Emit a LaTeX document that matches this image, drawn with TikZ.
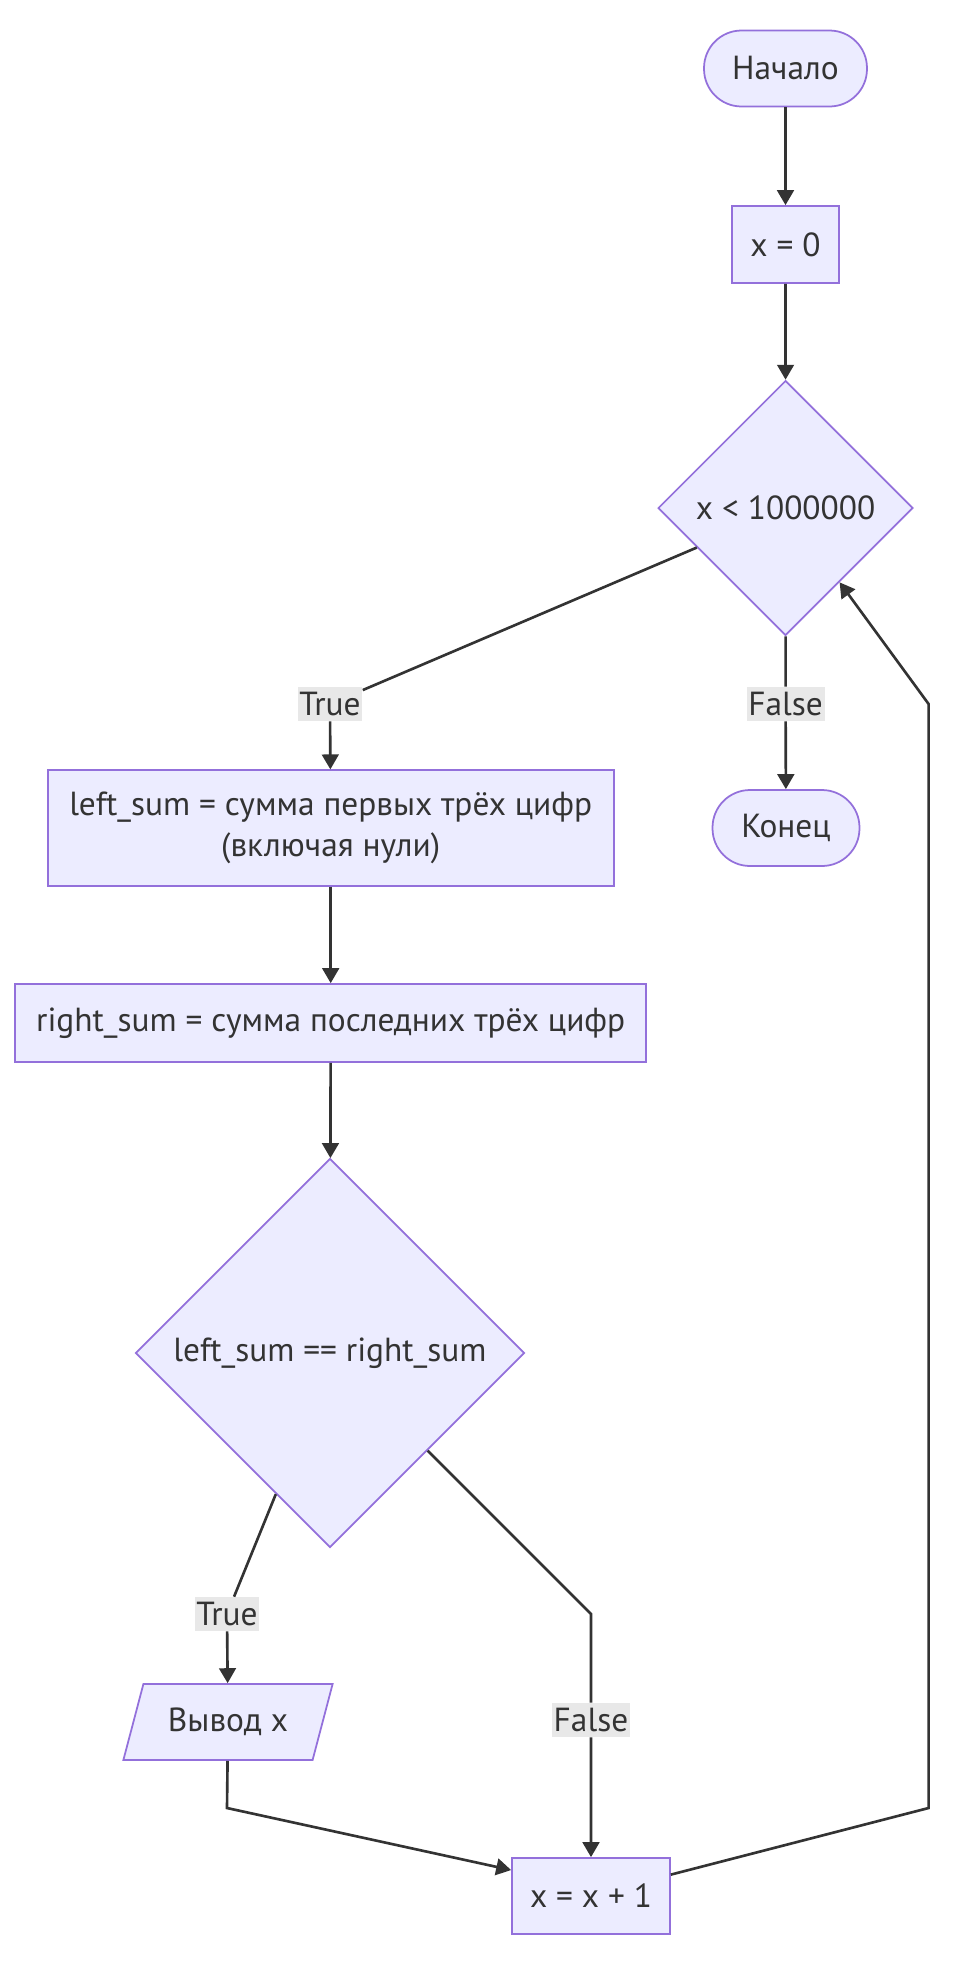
\documentclass[tikz,border=0pt]{standalone}
\usepackage{fontspec}
\setmainfont{PT Sans}
\usetikzlibrary{shapes.geometric,arrows.meta}

\definecolor{flowfill}{HTML}{ECECFF}
\definecolor{flowborder}{HTML}{9370DB}
\definecolor{flowtext}{HTML}{333333}
\definecolor{labelfill}{HTML}{E8E8E8}

\tikzset{
  flow_node/.style={draw=flowborder, fill=flowfill, line width=1pt, text=flowtext,
    font=\fontsize{19}{23}\selectfont, inner sep=0pt},
  terminal/.style={flow_node, rectangle, rounded corners=0.75cm, minimum height=1.52cm},
  process/.style={flow_node, rectangle, minimum height=1.54cm},
  decision/.style={flow_node, diamond, aspect=1},
  io_box/.style={flow_node, trapezium, trapezium left angle=63, trapezium right angle=117,
    trapezium stretches=true, minimum width=4.2cm, minimum height=1.52cm},
  edge_label/.style={fill=labelfill, text=flowtext, font=\fontsize{19}{23}\selectfont,
    inner sep=1pt, minimum height=0.68cm},
  flow_arrow/.style={draw=flowtext, line width=1.5pt, -{Triangle[length=8.5pt,width=9.5pt]}}
}

\begin{document}
\begin{tikzpicture}[x=0.02cm, y=-0.02cm]
        \useasboundingbox (0, 0) rectangle (960, 1968);

        % Define nodes of the main branch
        \node[terminal, minimum width=3.26cm] (start_node) at (785.5, 68.5) {Начало};
        \node[process, minimum width=2.14cm] (init_x) at (785.5, 244.5) {x = 0};
        \node[decision, minimum width=5.1cm, minimum height=5.1cm] (loop_cond) at (785.6, 508) {x < 1000000};
        \node[terminal, minimum width=2.94cm] (end_node) at (786, 828) {Конец};

        % Define nodes of the loop body
        \node[process, minimum width=11.32cm, minimum height=2.31cm, align=center] (left_sum) at (330.7, 828)
          {left\_sum = сумма первых трёх цифр\\(включая нули)};
        \node[process, minimum width=12.62cm, minimum height=1.56cm] (right_sum) at (330.7, 1023)
          {right\_sum = сумма последних трёх цифр};
        \node[decision, minimum width=7.78cm, minimum height=7.78cm] (sum_cond) at (330, 1353)
          {left\_sum == right\_sum};
        \node[io_box] (print_x) at (228, 1722) {Вывод x};
        \node[process, minimum width=3.16cm, minimum height=1.52cm] (inc_x) at (591, 1896) {x = x + 1};

        % Edge labels
        \node[edge_label] (true_one) at (330, 704) {True};
        \node[edge_label] (false_one) at (785.6, 704) {False};
        \node[edge_label] (true_two) at (227, 1614) {True};
        \node[edge_label] (false_two) at (591, 1720) {False};

        % Bend points
        \coordinate (false_bend) at (591, 1614);
        \coordinate (join_bend) at (227, 1808);
        \coordinate (loop_low) at (928.6, 1808);
        \coordinate (loop_high) at (928.6, 704);

        % Draw connectors
        \draw[flow_arrow] (start_node) -- (init_x);
        \draw[flow_arrow] (init_x) -- (loop_cond);
        \draw[flow_arrow] (loop_cond.204) -- (true_one) -- (left_sum);
        \draw[flow_arrow] (loop_cond) -- (false_one) -- (end_node);
        \draw[flow_arrow] (left_sum) -- (right_sum);
        \draw[flow_arrow] (right_sum) -- (sum_cond);
        \draw[flow_arrow] (sum_cond.249) -- (true_two) -- (print_x);
        \draw[flow_arrow] (sum_cond.315) -- (false_bend) -- (false_two) -- (inc_x);
        \draw[flow_arrow] (print_x) -- (join_bend) -- (inc_x.162);
        \draw[flow_arrow] (inc_x.15) -- (loop_low) -- (loop_high) -- (loop_cond.306);
      \end{tikzpicture}
\end{document}
